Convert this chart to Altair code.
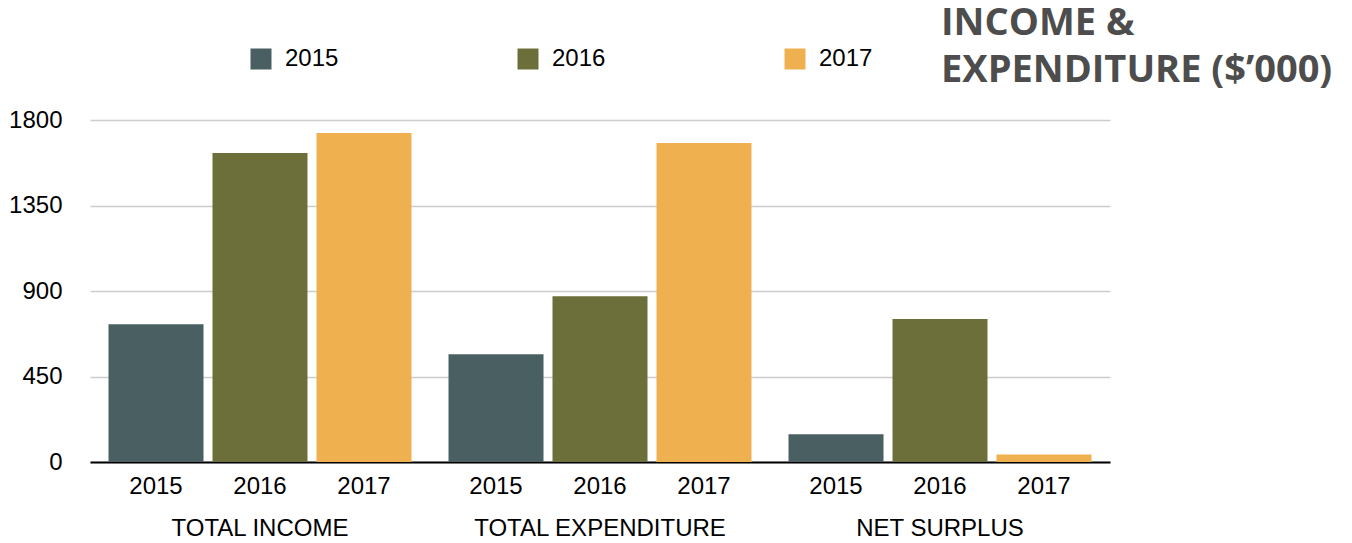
import altair as alt
import pandas as pd

groups = ["TOTAL INCOME", "TOTAL EXPENDITURE", "NET SURPLUS"]
years = ["2015", "2016", "2017"]
values_2015 = [725, 567, 146]
values_2016 = [1626, 873, 752]
values_2017 = [1731, 1679, 40]
colors = ["#4a5f61", "#6d6f3a", "#efb14f"]
y_ticks = [0, 450, 900, 1350, 1800]
title_text = "INCOME &\nEXPENDITURE ($\u2019000)"

rows = []
for yr, vals in zip(years, [values_2015, values_2016, values_2017]):
    for g, v in zip(groups, vals):
        rows.append({"group": g, "year": yr, "value": v})
df = pd.DataFrame(rows)

W, H = 1020, 342
FONT = "Liberation Sans"

x_enc = alt.X("group:N", sort=groups,
              scale=alt.Scale(paddingInner=0, paddingOuter=0),
              axis=alt.Axis(title=None, labelAngle=0, ticks=False, labelLimit=0,
                            labelFontSize=24, labelFont=FONT, labelColor="#000",
                            labelPadding=54, domainColor="#000", domainWidth=2))
xo_enc = alt.XOffset("year:N", sort=years,
                     scale=alt.Scale(paddingInner=0.0865, paddingOuter=0.178))

bars = alt.Chart(df).mark_bar().encode(
    x=x_enc,
    xOffset=xo_enc,
    y=alt.Y("value:Q", scale=alt.Scale(domain=[0, 1800], nice=False),
            axis=alt.Axis(title=None, values=y_ticks, ticks=False, domain=False,
                          format="d",
                          labelFontSize=24, labelFont=FONT, labelColor="#000",
                          labelPadding=28, gridColor="#cccccc", gridWidth=1.5)),
    color=alt.Color("year:N", sort=years,
                    scale=alt.Scale(domain=years, range=colors),
                    legend=alt.Legend(title=None, orient="none", legendX=159, legendY=-73,
                                      direction="horizontal", symbolType="square",
                                      symbolSize=441, symbolStrokeWidth=0,
                                      labelFontSize=24, labelFont=FONT, labelColor="#000",
                                      labelOffset=12, columnPadding=177)),
)

year_labels = alt.Chart(df).mark_text(fontSize=24, font=FONT, color="#000",
                                      baseline="middle").encode(
    x=alt.X("group:N", sort=groups),
    xOffset=alt.XOffset("year:N", sort=years),
    y=alt.value(H + 25),
    text="year:N",
)

title = alt.Chart(pd.DataFrame({"t": [title_text]})).mark_text(
    fontSize=38, font="Open Sans", fontWeight="bold", color="#4d4d4d",
    align="left", baseline="alphabetic", lineBreak="\n", lineHeight=47,
).encode(x=alt.value(851), y=alt.value(-85), text="t:N")

chart = alt.layer(bars, year_labels, title).properties(
    width=W, height=H,
    autosize=alt.AutoSizeParams(type="none"),
    padding={"left": 82, "top": 112, "right": 234, "bottom": 80},
).configure_view(strokeWidth=0)

chart.save("out.html", embed_options={"renderer": "svg", "actions": False})
